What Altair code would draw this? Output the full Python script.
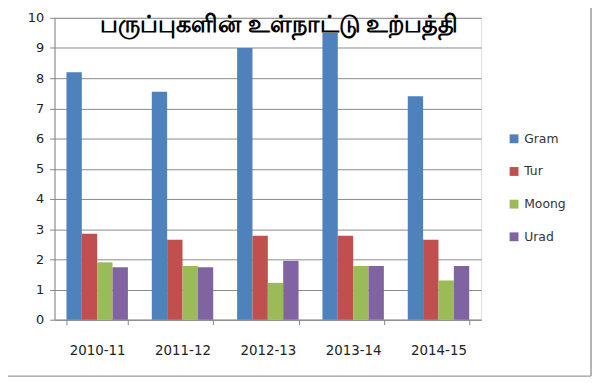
import altair as alt
import pandas as pd

years = ["2010-11", "2011-12", "2012-13", "2013-14", "2014-15"]
series = ["Gram", "Tur", "Moong", "Urad"]
gram = [8.2, 7.55, 9.0, 9.5, 7.4]
tur = [2.85, 2.65, 2.78, 2.78, 2.65]
moong = [1.9, 1.78, 1.22, 1.78, 1.3]
urad = [1.74, 1.74, 1.95, 1.78, 1.78]
colors = ["#4F81BD", "#C0504D", "#9BBB59", "#8064A2"]
title_text = "பருப்புகளின் உள்நாட்டு உற்பத்தி"

rows = []
for name, vals in zip(series, [gram, tur, moong, urad]):
    for y, v in zip(years, vals):
        rows.append({"year": y, "pulse": name, "value": v})
df = pd.DataFrame(rows)

font = "DejaVu Sans"

bars = alt.Chart(df).mark_bar().encode(
    x=alt.X("year:N", sort=years, title=None,
            scale=alt.Scale(paddingInner=0.28, paddingOuter=0.14),
            axis=alt.Axis(labelAngle=0, tickBand="extent", labelPadding=19,
                          labelFontSize=13.5, labelColor="#222", labelFont=font,
                          domainColor="#888", tickColor="#888", tickSize=5,
                          grid=False)),
    xOffset=alt.XOffset("pulse:N", sort=series),
    y=alt.Y("value:Q", title=None,
            scale=alt.Scale(domain=[0, 10]),
            axis=alt.Axis(values=list(range(0, 11)), labelFontSize=13,
                          labelColor="#222", labelFont=font, labelPadding=6,
                          domainColor="#888", tickColor="#888", tickSize=5,
                          gridColor="#8a8a8a", gridWidth=1)),
    color=alt.Color("pulse:N", sort=series,
                    scale=alt.Scale(domain=series, range=colors),
                    legend=alt.Legend(title=None, orient="none", legendX=458,
                                      legendY=116, symbolType="square",
                                      symbolSize=80, symbolStrokeWidth=0,
                                      labelFontSize=12.5, labelFont=font,
                                      labelColor="#333", rowPadding=20,
                                      labelOffset=4)),
)

title = alt.Chart(pd.DataFrame({"t": [title_text]})).mark_text(
    fontSize=24, fontWeight="bold", color="#000", baseline="middle", align="center"
).encode(text="t:N", x=alt.value(227), y=alt.value(7))

frame_df = pd.DataFrame({"k": ["frame"]})
right_border = alt.Chart(frame_df).mark_rule(color="#9a9a9a", strokeWidth=1.5).encode(
    x=alt.value(542), y=alt.value(-16), y2=alt.value(362))
bottom_border = alt.Chart(frame_df).mark_rule(color="#9a9a9a", strokeWidth=1.5).encode(
    x=alt.value(-55), x2=alt.value(542), y=alt.value(362))

chart = alt.layer(bars, title, right_border, bottom_border).properties(
    width=431, height=305,
    autosize=alt.AutoSizeParams(type="none"),
    padding={"left": 47, "top": 8, "right": 112, "bottom": 58},
).configure_view(stroke=None).configure(background="white")

chart.save("out.html", embed_options={"renderer": "svg", "actions": False})
